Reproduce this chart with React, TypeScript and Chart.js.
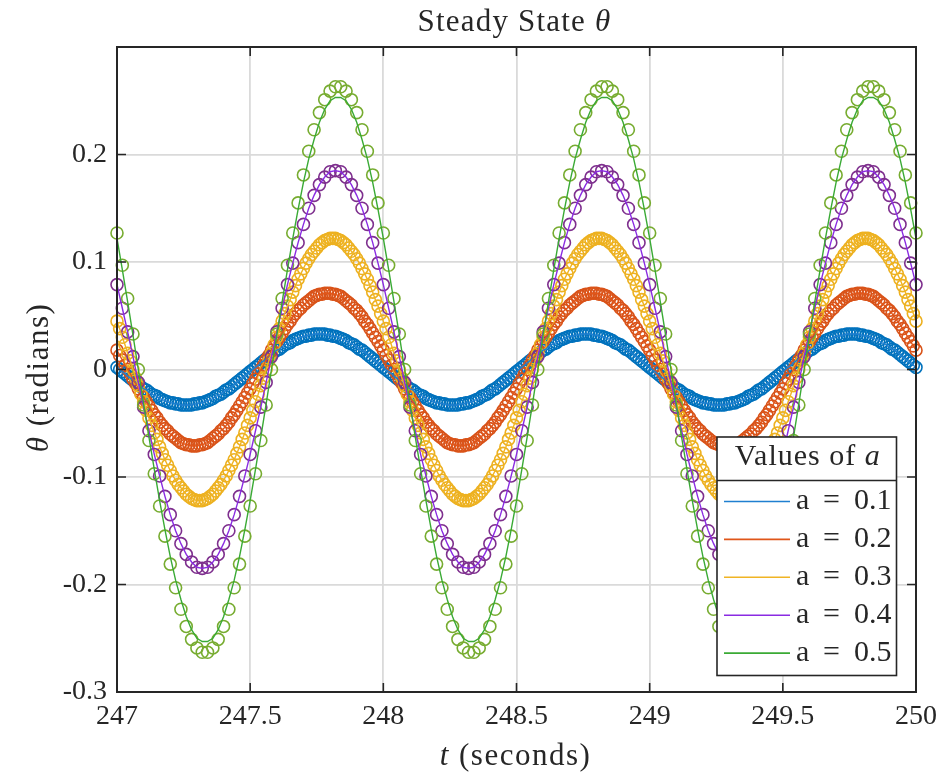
import React, { useEffect, useRef } from 'react';
import { Chart, registerables } from 'chart.js';

Chart.register(...registerables);

// ---- data ----
const T_START = 247;
const T_END = 250;

const X_TICKS = [247, 247.5, 248, 248.5, 249, 249.5, 250];
const X_TICK_LABELS = ['247', '247.5', '248', '248.5', '249', '249.5', '250'];
const Y_TICKS = [-0.3, -0.2, -0.1, 0, 0.1, 0.2];
const Y_TICK_LABELS = ['-0.3', '-0.2', '-0.1', '0', '0.1', '0.2'];

const SERIES_LABELS = ['a = 0.1', 'a = 0.2', 'a = 0.3', 'a = 0.4', 'a = 0.5'];
const SERIES_VALUES_TEXT = ['0.1', '0.2', '0.3', '0.4', '0.5'];

// a = 0.1, samples every 0.01 s from t = 247 to 250
const M1 = [
  0.002, 0, -0.002, -0.004, -0.006, -0.008, -0.010, -0.012, -0.014, -0.016, -0.018, -0.019, -0.021, -0.023, -0.024, -0.025, -0.027, -0.028, -0.029, -0.030, -0.031, -0.031, -0.032, -0.032, -0.033, -0.033, -0.033,
  -0.033, -0.033, -0.032, -0.032, -0.031, -0.031, -0.030, -0.029, -0.028, -0.027, -0.025, -0.024, -0.023, -0.021, -0.019, -0.018, -0.016, -0.014, -0.012, -0.010, -0.008, -0.006, -0.004, -0.002,
  0, 0.002, 0.004, 0.006, 0.008, 0.010, 0.012, 0.014, 0.016, 0.018, 0.019, 0.021, 0.023, 0.024, 0.025, 0.027, 0.028, 0.029, 0.030, 0.031, 0.031, 0.032, 0.032, 0.033, 0.033, 0.033,
  0.033, 0.033, 0.032, 0.032, 0.031, 0.031, 0.030, 0.029, 0.028, 0.027, 0.025, 0.024, 0.023, 0.021, 0.019, 0.018, 0.016, 0.014, 0.012, 0.010, 0.008, 0.006, 0.004,
  0.002, 0, -0.002, -0.004, -0.006, -0.008, -0.010, -0.012, -0.014, -0.016, -0.018, -0.019, -0.021, -0.023, -0.024, -0.025, -0.027, -0.028, -0.029, -0.030, -0.031, -0.031, -0.032, -0.032, -0.033, -0.033, -0.033,
  -0.033, -0.033, -0.032, -0.032, -0.031, -0.031, -0.030, -0.029, -0.028, -0.027, -0.025, -0.024, -0.023, -0.021, -0.019, -0.018, -0.016, -0.014, -0.012, -0.010, -0.008, -0.006, -0.004, -0.002,
  0, 0.002, 0.004, 0.006, 0.008, 0.010, 0.012, 0.014, 0.016, 0.018, 0.019, 0.021, 0.023, 0.024, 0.025, 0.027, 0.028, 0.029, 0.030, 0.031, 0.031, 0.032, 0.032, 0.033, 0.033, 0.033,
  0.033, 0.033, 0.032, 0.032, 0.031, 0.031, 0.030, 0.029, 0.028, 0.027, 0.025, 0.024, 0.023, 0.021, 0.019, 0.018, 0.016, 0.014, 0.012, 0.010, 0.008, 0.006, 0.004,
  0.002, 0, -0.002, -0.004, -0.006, -0.008, -0.010, -0.012, -0.014, -0.016, -0.018, -0.019, -0.021, -0.023, -0.024, -0.025, -0.027, -0.028, -0.029, -0.030, -0.031, -0.031, -0.032, -0.032, -0.033, -0.033, -0.033,
  -0.033, -0.033, -0.032, -0.032, -0.031, -0.031, -0.030, -0.029, -0.028, -0.027, -0.025, -0.024, -0.023, -0.021, -0.019, -0.018, -0.016, -0.014, -0.012, -0.010, -0.008, -0.006, -0.004, -0.002,
  0, 0.002, 0.004, 0.006, 0.008, 0.010, 0.012, 0.014, 0.016, 0.018, 0.019, 0.021, 0.023, 0.024, 0.025, 0.027, 0.028, 0.029, 0.030, 0.031, 0.031, 0.032, 0.032, 0.033, 0.033, 0.033,
  0.033, 0.033, 0.032, 0.032, 0.031, 0.031, 0.030, 0.029, 0.028, 0.027, 0.025, 0.024, 0.023, 0.021, 0.019, 0.018, 0.016, 0.014, 0.012, 0.010, 0.008, 0.006, 0.004,
  0.002,
];

// a = 0.2, samples every 0.01 s
const M2 = [
  0.018, 0.013, 0.009, 0.004, 0,
  -0.004, -0.009, -0.013, -0.018, -0.022, -0.026, -0.030, -0.034, -0.038, -0.042, -0.045, -0.049, -0.052, -0.055, -0.057, -0.060, -0.062, -0.064, -0.066, -0.068, -0.069, -0.070, -0.070, -0.071, -0.071,
  -0.071, -0.070, -0.070, -0.069, -0.068, -0.066, -0.064, -0.062, -0.060, -0.057, -0.055, -0.052, -0.049, -0.045, -0.042, -0.038, -0.034, -0.030, -0.026, -0.022, -0.018, -0.013, -0.009, -0.004,
  0, 0.004, 0.009, 0.013, 0.018, 0.022, 0.026, 0.030, 0.034, 0.038, 0.042, 0.045, 0.049, 0.052, 0.055, 0.057, 0.060, 0.062, 0.064, 0.066, 0.068, 0.069, 0.070, 0.070, 0.071, 0.071,
  0.071, 0.070, 0.070, 0.069, 0.068, 0.066, 0.064, 0.062, 0.060, 0.057, 0.055, 0.052, 0.049, 0.045, 0.042, 0.038, 0.034, 0.030, 0.026, 0.022,
  0.018, 0.013, 0.009, 0.004, 0,
  -0.004, -0.009, -0.013, -0.018, -0.022, -0.026, -0.030, -0.034, -0.038, -0.042, -0.045, -0.049, -0.052, -0.055, -0.057, -0.060, -0.062, -0.064, -0.066, -0.068, -0.069, -0.070, -0.070, -0.071, -0.071,
  -0.071, -0.070, -0.070, -0.069, -0.068, -0.066, -0.064, -0.062, -0.060, -0.057, -0.055, -0.052, -0.049, -0.045, -0.042, -0.038, -0.034, -0.030, -0.026, -0.022, -0.018, -0.013, -0.009, -0.004,
  0, 0.004, 0.009, 0.013, 0.018, 0.022, 0.026, 0.030, 0.034, 0.038, 0.042, 0.045, 0.049, 0.052, 0.055, 0.057, 0.060, 0.062, 0.064, 0.066, 0.068, 0.069, 0.070, 0.070, 0.071, 0.071,
  0.071, 0.070, 0.070, 0.069, 0.068, 0.066, 0.064, 0.062, 0.060, 0.057, 0.055, 0.052, 0.049, 0.045, 0.042, 0.038, 0.034, 0.030, 0.026, 0.022,
  0.018, 0.013, 0.009, 0.004, 0,
  -0.004, -0.009, -0.013, -0.018, -0.022, -0.026, -0.030, -0.034, -0.038, -0.042, -0.045, -0.049, -0.052, -0.055, -0.057, -0.060, -0.062, -0.064, -0.066, -0.068, -0.069, -0.070, -0.070, -0.071, -0.071,
  -0.071, -0.070, -0.070, -0.069, -0.068, -0.066, -0.064, -0.062, -0.060, -0.057, -0.055, -0.052, -0.049, -0.045, -0.042, -0.038, -0.034, -0.030, -0.026, -0.022, -0.018, -0.013, -0.009, -0.004,
  0, 0.004, 0.009, 0.013, 0.018, 0.022, 0.026, 0.030, 0.034, 0.038, 0.042, 0.045, 0.049, 0.052, 0.055, 0.057, 0.060, 0.062, 0.064, 0.066, 0.068, 0.069, 0.070, 0.070, 0.071, 0.071,
  0.071, 0.070, 0.070, 0.069, 0.068, 0.066, 0.064, 0.062, 0.060, 0.057, 0.055, 0.052, 0.049, 0.045, 0.042, 0.038, 0.034, 0.030, 0.026, 0.022,
  0.018,
];

// a = 0.3, samples every 0.01 s
const M3 = [
  0.045, 0.038, 0.030, 0.023, 0.015, 0.008, 0,
  -0.008, -0.015, -0.023, -0.030, -0.038, -0.045, -0.052, -0.059, -0.065, -0.072, -0.078, -0.084, -0.089, -0.094, -0.099, -0.103, -0.107, -0.110, -0.113, -0.116, -0.118, -0.120, -0.121, -0.122, -0.122,
  -0.122, -0.121, -0.120, -0.118, -0.116, -0.113, -0.110, -0.107, -0.103, -0.099, -0.094, -0.089, -0.084, -0.078, -0.072, -0.065, -0.059, -0.052, -0.045, -0.038, -0.030, -0.023, -0.015, -0.008,
  0, 0.008, 0.015, 0.023, 0.030, 0.038, 0.045, 0.052, 0.059, 0.065, 0.072, 0.078, 0.084, 0.089, 0.094, 0.099, 0.103, 0.107, 0.110, 0.113, 0.116, 0.118, 0.120, 0.121, 0.122, 0.122,
  0.122, 0.121, 0.120, 0.118, 0.116, 0.113, 0.110, 0.107, 0.103, 0.099, 0.094, 0.089, 0.084, 0.078, 0.072, 0.065, 0.059, 0.052,
  0.045, 0.038, 0.030, 0.023, 0.015, 0.008, 0,
  -0.008, -0.015, -0.023, -0.030, -0.038, -0.045, -0.052, -0.059, -0.065, -0.072, -0.078, -0.084, -0.089, -0.094, -0.099, -0.103, -0.107, -0.110, -0.113, -0.116, -0.118, -0.120, -0.121, -0.122, -0.122,
  -0.122, -0.121, -0.120, -0.118, -0.116, -0.113, -0.110, -0.107, -0.103, -0.099, -0.094, -0.089, -0.084, -0.078, -0.072, -0.065, -0.059, -0.052, -0.045, -0.038, -0.030, -0.023, -0.015, -0.008,
  0, 0.008, 0.015, 0.023, 0.030, 0.038, 0.045, 0.052, 0.059, 0.065, 0.072, 0.078, 0.084, 0.089, 0.094, 0.099, 0.103, 0.107, 0.110, 0.113, 0.116, 0.118, 0.120, 0.121, 0.122, 0.122,
  0.122, 0.121, 0.120, 0.118, 0.116, 0.113, 0.110, 0.107, 0.103, 0.099, 0.094, 0.089, 0.084, 0.078, 0.072, 0.065, 0.059, 0.052,
  0.045, 0.038, 0.030, 0.023, 0.015, 0.008, 0,
  -0.008, -0.015, -0.023, -0.030, -0.038, -0.045, -0.052, -0.059, -0.065, -0.072, -0.078, -0.084, -0.089, -0.094, -0.099, -0.103, -0.107, -0.110, -0.113, -0.116, -0.118, -0.120, -0.121, -0.122, -0.122,
  -0.122, -0.121, -0.120, -0.118, -0.116, -0.113, -0.110, -0.107, -0.103, -0.099, -0.094, -0.089, -0.084, -0.078, -0.072, -0.065, -0.059, -0.052, -0.045, -0.038, -0.030, -0.023, -0.015, -0.008,
  0, 0.008, 0.015, 0.023, 0.030, 0.038, 0.045, 0.052, 0.059, 0.065, 0.072, 0.078, 0.084, 0.089, 0.094, 0.099, 0.103, 0.107, 0.110, 0.113, 0.116, 0.118, 0.120, 0.121, 0.122, 0.122,
  0.122, 0.121, 0.120, 0.118, 0.116, 0.113, 0.110, 0.107, 0.103, 0.099, 0.094, 0.089, 0.084, 0.078, 0.072, 0.065, 0.059, 0.052,
  0.045,
];

// a = 0.4, samples every 0.02 s
const M4 = [
  0.079, 0.057, 0.035, 0.012, -0.012, -0.035, -0.057, -0.079, -0.099, -0.118,
  -0.135, -0.150, -0.162, -0.172, -0.179, -0.184, -0.185, -0.184, -0.179, -0.172,
  -0.162, -0.150, -0.135, -0.118, -0.099, -0.079, -0.057, -0.035, -0.012, 0.012,
  0.035, 0.057, 0.079, 0.099, 0.118, 0.135, 0.150, 0.162, 0.172, 0.179,
  0.184, 0.185, 0.184, 0.179, 0.172, 0.162, 0.150, 0.135, 0.118, 0.099,
  0.079, 0.057, 0.035, 0.012, -0.012, -0.035, -0.057, -0.079, -0.099, -0.118,
  -0.135, -0.150, -0.162, -0.172, -0.179, -0.184, -0.185, -0.184, -0.179, -0.172,
  -0.162, -0.150, -0.135, -0.118, -0.099, -0.079, -0.057, -0.035, -0.012, 0.012,
  0.035, 0.057, 0.079, 0.099, 0.118, 0.135, 0.150, 0.162, 0.172, 0.179,
  0.184, 0.185, 0.184, 0.179, 0.172, 0.162, 0.150, 0.135, 0.118, 0.099,
  0.079, 0.057, 0.035, 0.012, -0.012, -0.035, -0.057, -0.079, -0.099, -0.118,
  -0.135, -0.150, -0.162, -0.172, -0.179, -0.184, -0.185, -0.184, -0.179, -0.172,
  -0.162, -0.150, -0.135, -0.118, -0.099, -0.079, -0.057, -0.035, -0.012, 0.012,
  0.035, 0.057, 0.079, 0.099, 0.118, 0.135, 0.150, 0.162, 0.172, 0.179,
  0.184, 0.185, 0.184, 0.179, 0.172, 0.162, 0.150, 0.135, 0.118, 0.099,
  0.079,
];

// a = 0.5, samples every 0.02 s
const M5 = [
  0.127, 0.097, 0.066, 0.033, 0, -0.033, -0.066, -0.097, -0.127, -0.155,
  -0.181, -0.203, -0.223, -0.239, -0.251, -0.259, -0.263, -0.263, -0.259, -0.251,
  -0.239, -0.223, -0.203, -0.181, -0.155, -0.127, -0.097, -0.066, -0.033, 0,
  0.033, 0.066, 0.097, 0.127, 0.155, 0.181, 0.203, 0.223, 0.239, 0.251,
  0.259, 0.263, 0.263, 0.259, 0.251, 0.239, 0.223, 0.203, 0.181, 0.155,
  0.127, 0.097, 0.066, 0.033, 0, -0.033, -0.066, -0.097, -0.127, -0.155,
  -0.181, -0.203, -0.223, -0.239, -0.251, -0.259, -0.263, -0.263, -0.259, -0.251,
  -0.239, -0.223, -0.203, -0.181, -0.155, -0.127, -0.097, -0.066, -0.033, 0,
  0.033, 0.066, 0.097, 0.127, 0.155, 0.181, 0.203, 0.223, 0.239, 0.251,
  0.259, 0.263, 0.263, 0.259, 0.251, 0.239, 0.223, 0.203, 0.181, 0.155,
  0.127, 0.097, 0.066, 0.033, 0, -0.033, -0.066, -0.097, -0.127, -0.155,
  -0.181, -0.203, -0.223, -0.239, -0.251, -0.259, -0.263, -0.263, -0.259, -0.251,
  -0.239, -0.223, -0.203, -0.181, -0.155, -0.127, -0.097, -0.066, -0.033, 0,
  0.033, 0.066, 0.097, 0.127, 0.155, 0.181, 0.203, 0.223, 0.239, 0.251,
  0.259, 0.263, 0.263, 0.259, 0.251, 0.239, 0.223, 0.203, 0.181, 0.155,
  0.127,
];

// line for a = 0.5 (slightly smaller amplitude than its markers), every 0.02 s
const L5 = [
  0.122, 0.093, 0.063, 0.032, 0, -0.032, -0.063, -0.093, -0.122, -0.149,
  -0.174, -0.196, -0.214, -0.230, -0.242, -0.250, -0.253, -0.253, -0.250, -0.242,
  -0.230, -0.214, -0.196, -0.174, -0.149, -0.122, -0.093, -0.063, -0.032, 0,
  0.032, 0.063, 0.093, 0.122, 0.149, 0.174, 0.196, 0.214, 0.230, 0.242,
  0.250, 0.253, 0.253, 0.250, 0.242, 0.230, 0.214, 0.196, 0.174, 0.149,
  0.122, 0.093, 0.063, 0.032, 0, -0.032, -0.063, -0.093, -0.122, -0.149,
  -0.174, -0.196, -0.214, -0.230, -0.242, -0.250, -0.253, -0.253, -0.250, -0.242,
  -0.230, -0.214, -0.196, -0.174, -0.149, -0.122, -0.093, -0.063, -0.032, 0,
  0.032, 0.063, 0.093, 0.122, 0.149, 0.174, 0.196, 0.214, 0.230, 0.242,
  0.250, 0.253, 0.253, 0.250, 0.242, 0.230, 0.214, 0.196, 0.174, 0.149,
  0.122, 0.093, 0.063, 0.032, 0, -0.032, -0.063, -0.093, -0.122, -0.149,
  -0.174, -0.196, -0.214, -0.230, -0.242, -0.250, -0.253, -0.253, -0.250, -0.242,
  -0.230, -0.214, -0.196, -0.174, -0.149, -0.122, -0.093, -0.063, -0.032, 0,
  0.032, 0.063, 0.093, 0.122, 0.149, 0.174, 0.196, 0.214, 0.230, 0.242,
  0.250, 0.253, 0.253, 0.250, 0.242, 0.230, 0.214, 0.196, 0.174, 0.149,
  0.122,
];

const MARKER_SERIES = [M1, M2, M3, M4, M5];
const LINE_SERIES = [M1, M2, M3, M4, L5];

// ---- styles ----
const MARKER_COLORS = ['#0072BD', '#D95319', '#EDB120', '#7E2F8E', '#77AC30'];
const LINE_COLORS = ['#1f7fd0', '#e0561a', '#f0b424', '#8a2be2', '#3aaa35'];
const AXIS_COLOR = '#262626';
const GRID_COLOR = '#dadada';
const FONT = '"Liberation Serif", "Times New Roman", serif';

type Part = { t: string; it?: boolean };

function drawRich(
  ctx: CanvasRenderingContext2D,
  parts: Part[],
  x: number,
  y: number,
  size: number,
  spacing: number,
) {
  const c: any = ctx;
  c.letterSpacing = `${spacing}px`;
  const fonts = parts.map((p) => `${p.it ? 'italic ' : ''}${size}px ${FONT}`);
  const widths = parts.map((p, i) => {
    ctx.font = fonts[i];
    return ctx.measureText(p.t).width;
  });
  const total = widths.reduce((a, b) => a + b, 0);
  let cx = x - total / 2;
  ctx.textAlign = 'left';
  ctx.textBaseline = 'middle';
  parts.forEach((p, i) => {
    ctx.font = fonts[i];
    ctx.fillText(p.t, cx, y);
    cx += widths[i];
  });
  c.letterSpacing = '0px';
}

function timesFor(values: number[]) {
  const n = values.length - 1;
  return values.map((_, i) => +(T_START + ((T_END - T_START) * i) / n).toFixed(3));
}

const decorPlugin = {
  id: 'matlabDecor',
  afterDraw(chart: any) {
    const ctx: CanvasRenderingContext2D = chart.ctx;
    const a = chart.chartArea;
    const xs = chart.scales.x;
    const ys = chart.scales.y;
    ctx.save();
    // box
    ctx.strokeStyle = AXIS_COLOR;
    ctx.lineWidth = 2;
    ctx.strokeRect(a.left, a.top, a.right - a.left, a.bottom - a.top);
    // inner ticks
    const tl = 9;
    ctx.lineWidth = 1.6;
    ctx.beginPath();
    X_TICKS.forEach((v) => {
      const px = xs.getPixelForValue(v);
      ctx.moveTo(px, a.bottom);
      ctx.lineTo(px, a.bottom - tl);
      ctx.moveTo(px, a.top);
      ctx.lineTo(px, a.top + tl);
    });
    Y_TICKS.forEach((v) => {
      const py = ys.getPixelForValue(v);
      ctx.moveTo(a.left, py);
      ctx.lineTo(a.left + tl, py);
      ctx.moveTo(a.right, py);
      ctx.lineTo(a.right - tl, py);
    });
    ctx.stroke();

    // titles
    ctx.fillStyle = AXIS_COLOR;
    const cx = (a.left + a.right) / 2;
    drawRich(ctx, [{ t: 'Steady State ' }, { t: 'θ', it: true }], cx - 2, a.top - 24, 31, 1.2);
    drawRich(ctx, [{ t: 't', it: true }, { t: ' (seconds)' }], cx - 1, a.bottom + 65, 31, 1.5);
    ctx.save();
    ctx.translate(40, (a.top + a.bottom) / 2 + 8);
    ctx.rotate(-Math.PI / 2);
    drawRich(ctx, [{ t: 'θ', it: true }, { t: ' (radians)' }], 0, 0, 31, 1.5);
    ctx.restore();

    // legend
    const lx0 = a.right - 199;
    const lx1 = a.right - 19.5;
    const ly0 = a.bottom - 255;
    const ly1 = a.bottom - 16.5;
    const sep = ly0 + 43.5;
    ctx.fillStyle = '#ffffff';
    ctx.fillRect(lx0, ly0, lx1 - lx0, ly1 - ly0);
    ctx.strokeStyle = AXIS_COLOR;
    ctx.lineWidth = 1.6;
    ctx.strokeRect(lx0, ly0, lx1 - lx0, ly1 - ly0);
    ctx.beginPath();
    ctx.moveTo(lx0, sep);
    ctx.lineTo(lx1, sep);
    ctx.stroke();
    ctx.fillStyle = AXIS_COLOR;
    drawRich(ctx, [{ t: 'Values of ' }, { t: 'a', it: true }], (lx0 + lx1) / 2 + 1, ly0 + 20, 30, 1);
    const rowH = 37.9;
    SERIES_LABELS.forEach((_lab, i) => {
      const y = sep + 21 + i * rowH;
      ctx.strokeStyle = LINE_COLORS[i];
      ctx.lineWidth = 1.6;
      ctx.beginPath();
      ctx.moveTo(lx0 + 7, y);
      ctx.lineTo(lx0 + 73, y);
      ctx.stroke();
      ctx.fillStyle = AXIS_COLOR;
      ctx.font = `30px ${FONT}`;
      ctx.textAlign = 'left';
      ctx.textBaseline = 'middle';
      ctx.fillText('a', lx0 + 79, y);
      ctx.fillText('=', lx0 + 106, y);
      ctx.fillText(SERIES_VALUES_TEXT[i], lx0 + 137, y);
    });
    ctx.restore();
  },
};

export default function App() {
  const ref = useRef<HTMLCanvasElement | null>(null);

  useEffect(() => {
    if (!ref.current) return;

    const lineSets = LINE_SERIES.map((ys, k) => {
      const T = timesFor(ys);
      return {
        label: SERIES_LABELS[k],
        data: T.map((t, i) => ({ x: t, y: ys[i] })),
        borderColor: LINE_COLORS[k],
        backgroundColor: LINE_COLORS[k],
        borderWidth: 1.4,
        pointRadius: 0,
        fill: false,
        tension: 0,
        order: 4 - k,
      };
    });
    const markerSets = MARKER_SERIES.map((ys, k) => {
      const T = timesFor(ys);
      return {
        label: '',
        data: T.map((t, i) => ({ x: t, y: ys[i] })),
        showLine: false,
        borderColor: MARKER_COLORS[k],
        backgroundColor: 'rgba(0,0,0,0)',
        pointStyle: 'circle',
        pointRadius: 6,
        pointBorderWidth: 1.6,
        pointBorderColor: MARKER_COLORS[k],
        pointBackgroundColor: 'rgba(0,0,0,0)',
        clip: false,
        order: 9 - k,
      };
    });

    const chart = new Chart(ref.current, {
      type: 'line',
      data: { datasets: [...lineSets, ...markerSets] as any },
      options: {
        responsive: false,
        animation: false,
        events: [],
        layout: { padding: { left: 0, right: 22, top: 47, bottom: 0 } },
        plugins: {
          legend: { display: false },
          title: { display: false },
          tooltip: { enabled: false },
        },
        scales: {
          x: {
            type: 'linear',
            min: 247,
            max: 250,
            border: { display: false },
            grid: { color: GRID_COLOR, lineWidth: 1.8, drawTicks: false },
            afterBuildTicks: (s: any) => {
              s.ticks = X_TICKS.map((v) => ({ value: v }));
            },
            afterFit: (s: any) => {
              s.height = 81;
              s.paddingLeft = 0;
              s.paddingRight = 0;
            },
            ticks: {
              autoSkip: false,
              maxRotation: 0,
              padding: 8,
              color: AXIS_COLOR,
              font: { family: FONT, size: 28 },
              callback: (_v: any, i: number) => X_TICK_LABELS[i],
            },
          },
          y: {
            type: 'linear',
            min: -0.3,
            max: 0.3,
            border: { display: false },
            grid: { color: GRID_COLOR, lineWidth: 1.8, drawTicks: false },
            afterBuildTicks: (s: any) => {
              s.ticks = Y_TICKS.map((v) => ({ value: v }));
            },
            afterFit: (s: any) => {
              s.width = 117;
              s.paddingTop = 0;
              s.paddingBottom = 0;
            },
            ticks: {
              autoSkip: false,
              padding: 10,
              color: AXIS_COLOR,
              font: { family: FONT, size: 28 },
              callback: (_v: any, i: number) => Y_TICK_LABELS[i],
            },
          },
        },
      } as any,
      plugins: [decorPlugin],
    });
    return () => chart.destroy();
  }, []);

  return (
    <div style={{ position: 'fixed', left: 0, top: 0, width: 938, height: 773, background: '#fff' }}>
      <canvas ref={ref} width={938} height={773} style={{ width: 938, height: 773, display: 'block' }} />
    </div>
  );
}
